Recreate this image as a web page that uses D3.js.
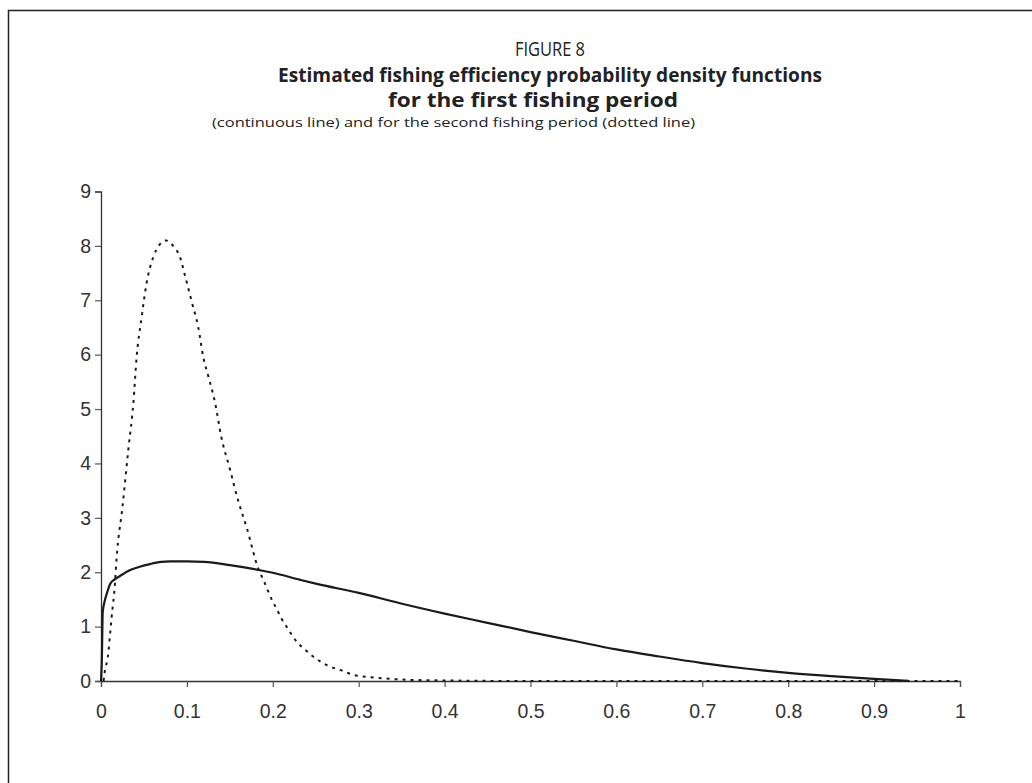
<!DOCTYPE html>
<html>
<head>
<meta charset="utf-8">
<script src="https://cdn.jsdelivr.net/npm/d3@7"></script>
<style>
  body { margin: 0; background: #fff; }
  svg { display: block; }
  .tick text { font-family: 'Liberation Sans', Arial, sans-serif; font-size: 19.5px; fill: #333; }
</style>
</head>
<body>
<svg id="chart"></svg>
<script>
// first fishing period (continuous line)
const firstX = [0, 0.001, 0.002, 0.004, 0.007, 0.0105, 0.016, 0.022, 0.034, 0.045, 0.057, 0.07, 0.08, 0.1, 0.12, 0.15,
    0.2, 0.232, 0.25, 0.3, 0.348, 0.4, 0.45, 0.5, 0.55, 0.6, 0.65, 0.7, 0.75, 0.8, 0.85, 0.9, 0.94];
const firstY = [0, 0.4, 1.26, 1.45, 1.62, 1.78, 1.87, 1.93, 2.04, 2.1, 2.15, 2.19, 2.2, 2.2, 2.19, 2.13,
    1.99, 1.86, 1.79, 1.62, 1.43, 1.24, 1.07, 0.9, 0.74, 0.58, 0.45, 0.33, 0.23, 0.15, 0.09, 0.04, 0.005];

// second fishing period (dotted line)
const secondX = [0.003, 0.0041, 0.0085, 0.0105, 0.0124, 0.0163, 0.018, 0.025, 0.032, 0.0376, 0.0415, 0.0474, 0.053,
    0.061, 0.068, 0.0757, 0.084, 0.092, 0.098, 0.106, 0.113, 0.119, 0.125, 0.133, 0.14, 0.15, 0.16, 0.17, 0.183,
    0.189, 0.199, 0.205, 0.21, 0.216, 0.228, 0.238, 0.247, 0.263, 0.279, 0.294, 0.313, 0.336, 0.36, 0.4, 0.5,
    0.6, 0.7, 0.8, 0.9, 1];
const secondY = [0, 0.14, 0.51, 0.85, 1.18, 1.8, 2.22, 3.2, 4.28, 5.1, 5.96, 6.7, 7.31,
    7.8, 8.02, 8.1, 8.0, 7.79, 7.44, 6.95, 6.52, 5.96, 5.6, 5.1, 4.49, 3.9, 3.3, 2.8, 2.07,
    1.86, 1.49, 1.31, 1.15, 1.0, 0.72, 0.57, 0.45, 0.29, 0.2, 0.11, 0.07, 0.04, 0.02, 0.01, 0,
    0, 0, 0, 0, 0];

const xTicks = [0, 0.1, 0.2, 0.3, 0.4, 0.5, 0.6, 0.7, 0.8, 0.9, 1];
const yTicks = [0, 1, 2, 3, 4, 5, 6, 7, 8, 9];

const width = 1032, height = 783;
const margin = { top: 191.5, left: 101, right: 72, bottom: 102 };
const innerW = width - margin.left - margin.right;
const innerH = height - margin.top - margin.bottom;

const svg = d3.select("#chart").attr("width", width).attr("height", height);

// frame (only left and top edges show in the picture)
svg.append("rect")
    .attr("x", 8.5).attr("y", 10.5)
    .attr("width", 1100).attr("height", 900)
    .attr("fill", "none")
    .attr("stroke", "#222")
    .attr("stroke-width", 1.5);

// titles
const titleFont = "'Open Sans', 'DejaVu Sans', sans-serif";
const titles = [
    { text: "FIGURE 8", x: 515, y: 56, len: 70, size: 20, weight: "normal" },
    { text: "Estimated fishing efficiency probability density functions", x: 278, y: 82, len: 544, size: 19, weight: "bold" },
    { text: "for the first fishing period", x: 388, y: 107, len: 290, size: 19, weight: "bold" },
    { text: "(continuous line) and for the second fishing period (dotted line)", x: 212, y: 127, len: 483, size: 13.5, weight: "normal" }
];
svg.selectAll(".title")
    .data(titles)
    .join("text")
    .attr("class", "title")
    .attr("x", d => d.x).attr("y", d => d.y)
    .attr("textLength", d => d.len).attr("lengthAdjust", "spacingAndGlyphs")
    .style("font-family", titleFont)
    .style("font-size", d => d.size + "px")
    .style("font-weight", d => d.weight)
    .style("fill", "#222")
    .text(d => d.text);

const g = svg.append("g").attr("transform", `translate(${margin.left}, ${margin.top})`);

const xScale = d3.scaleLinear().domain([0, 1]).range([0, innerW]);
const yScale = d3.scaleLinear().domain([0, 9]).range([innerH, 0]);

const xAxis = g.append("g")
    .attr("transform", `translate(0, ${innerH})`)
    .call(d3.axisBottom(xScale).tickValues(xTicks).tickSize(6).tickPadding(17).tickFormat(d3.format("")));
const yAxis = g.append("g")
    .call(d3.axisLeft(yScale).tickValues(yTicks).tickSize(6).tickPadding(4).tickFormat(d3.format("")));

[xAxis, yAxis].forEach(ax => {
    ax.attr("font-size", null).attr("font-family", null);
    ax.select(".domain").attr("stroke", "#333").attr("stroke-width", 1.3);
    ax.selectAll(".tick line").attr("stroke", "#555").attr("stroke-width", 1.2);
});

const line = d3.line()
    .x(d => xScale(d[0]))
    .y(d => yScale(d[1]))
    .curve(d3.curveMonotoneX);

const secondData = secondX.map((x, i) => [x, secondY[i]]);
const firstData = firstX.map((x, i) => [x, firstY[i]]);

g.append("path")
    .datum(secondData)
    .attr("d", line)
    .attr("fill", "none")
    .attr("stroke", "#1a1a1a")
    .attr("stroke-width", 2)
    .attr("stroke-dasharray", "3,5");

g.append("path")
    .datum(firstData)
    .attr("d", line)
    .attr("fill", "none")
    .attr("stroke", "#1a1a1a")
    .attr("stroke-width", 2.2);
</script>
</body>
</html>
